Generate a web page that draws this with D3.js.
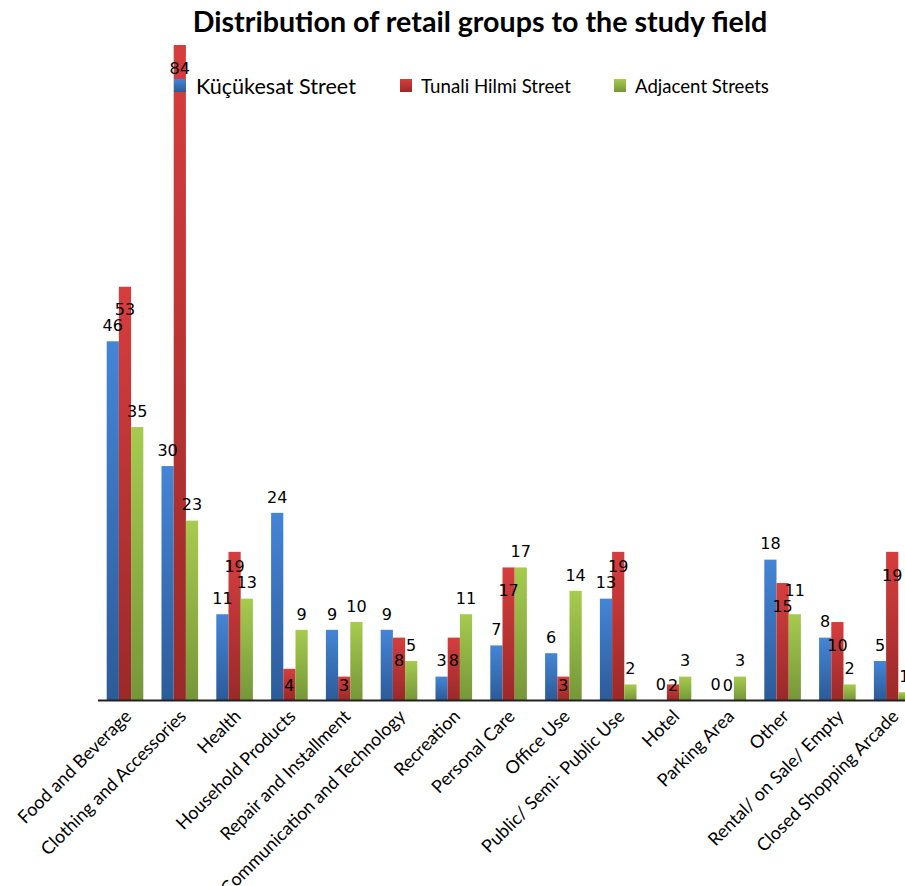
<!DOCTYPE html>
<html>
<head>
<meta charset="utf-8">
<script src="https://cdn.jsdelivr.net/npm/d3@7/dist/d3.min.js"></script>
<style>
  html, body { margin: 0; padding: 0; background: #fff; }
  svg { display: block; }
  .cat-label { font-family: Lato, "Open Sans", sans-serif; font-size: 18px; fill: #000; }
  .val-label { font-family: "DejaVu Sans", sans-serif; font-size: 16px; fill: #000; }
  .legend-text { font-family: Lato, "Open Sans", sans-serif; fill: #000; }
</style>
</head>
<body>
<div id="chart"></div>
<script>
// Retail groups per street
const categories = [
    'Food and Beverage', 'Clothing and Accessories', 'Health', 'Household Products',
    'Repair and Installment', 'Communication  and Technology', 'Recreation', 'Personal Care',
    'Office Use', 'Public/ Semi- Public Use', 'Hotel', 'Parking Area', 'Other',
    'Rental/ on Sale/ Empty', 'Closed Shopping Arcade'
];
const seriesNames = ['Küçükesat Street', 'Tunali Hilmi Street', 'Adjacent Streets'];
const kucukesat = [46, 30, 11, 24, 9, 9, 3, 7, 6, 13, 0, 0, 18, 8, 5];
const tunali = [53, 84, 19, 4, 3, 8, 8, 17, 3, 19, 2, 0, 15, 10, 19];
const adjacent = [35, 23, 13, 9, 10, 5, 11, 17, 14, 2, 3, 3, 11, 2, 1];
const yMax = 84;

const width = 905, height = 886;
const baseY = 700;

const colors = [
    { top: '#4585d6', bottom: '#2c5b99' },
    { top: '#d63e3e', bottom: '#9b2929' },
    { top: '#a6cb4e', bottom: '#769739' }
];

const svg = d3.select('#chart').append('svg')
    .attr('width', width)
    .attr('height', height);

const defs = svg.append('defs');
colors.forEach((c, i) => {
    const grad = defs.append('linearGradient')
        .attr('id', 'grad' + i)
        .attr('x1', 0).attr('y1', 0).attr('x2', 0).attr('y2', 1);
    grad.append('stop').attr('offset', '0%').attr('stop-color', c.top);
    grad.append('stop').attr('offset', '100%').attr('stop-color', c.bottom);
});

const x0 = d3.scaleBand()
    .domain(categories)
    .range([97.6, 919.6])
    .paddingInner(0.332)
    .paddingOuter(0.166);

const x1 = d3.scaleBand()
    .domain(d3.range(3))
    .range([0, x0.bandwidth()]);

const y = d3.scaleLinear()
    .domain([0, yMax])
    .range([baseY, 45]);

const rows = categories.map((cat, i) => ({
    cat,
    values: [kucukesat[i], tunali[i], adjacent[i]]
}));

// Bars
const groups = svg.append('g').attr('class', 'bars')
    .selectAll('g')
    .data(rows)
    .join('g')
    .attr('transform', d => `translate(${x0(d.cat)},0)`);

groups.selectAll('rect')
    .data(d => d.values.map((v, s) => ({ v, s })))
    .join('rect')
    .attr('x', d => x1(d.s))
    .attr('y', d => y(d.v))
    .attr('width', x1.bandwidth())
    .attr('height', d => baseY - y(d.v))
    .attr('fill', d => `url(#grad${d.s})`);

// Axis line
svg.append('line')
    .attr('x1', 98).attr('x2', width)
    .attr('y1', baseY + 0.5).attr('y2', baseY + 0.5)
    .attr('stroke', '#222')
    .attr('stroke-width', 1.8);

// Value labels: blue/green above the bar, red inside the top
const labelG = svg.append('g').attr('class', 'value-labels');
rows.forEach(row => {
    const gx = x0(row.cat);
    const items = row.values.map((v, s) => {
        const cx = gx + x1(s) + x1.bandwidth() / 2;
        let cy = s === 1 ? Math.min(y(v) + 23, baseY - 15) : y(v) - 16;
        const t = labelG.append('text')
            .attr('class', 'val-label')
            .attr('text-anchor', 'middle')
            .attr('dy', '0.36em')
            .text(v);
        return { t, cx, cy, w: t.node().getComputedTextLength() };
    });
    // nudge the upper of two clashing labels
    for (let a = 0; a < 3; a++) {
        for (let b = a + 1; b < 3; b++) {
            const p = items[a], q = items[b];
            const hOverlap = Math.abs(p.cx - q.cx) < (p.w + q.w) / 2 - 1;
            if (hOverlap && Math.abs(p.cy - q.cy) < 13) {
                if (p.cy < q.cy) p.cy = q.cy - 16; else q.cy = p.cy - 16;
            }
        }
    }
    items.forEach(it => it.t.attr('x', it.cx).attr('y', it.cy));
});

// Category labels
svg.append('g').attr('class', 'cat-labels')
    .selectAll('text')
    .data(categories)
    .join('text')
    .attr('class', 'cat-label')
    .attr('text-anchor', 'end')
    .attr('dy', '0.35em')
    .attr('transform', d => `translate(${x0(d) + x0.bandwidth() / 2 + 3},${baseY + 13}) rotate(-45)`)
    .text(d => d);

// Legend
const legend = [
    { x: 174, tx: 196, size: 19.5 },
    { x: 400, tx: 421, size: 16 },
    { x: 614, tx: 635, size: 16 }
];
const legendW = [160, 150, 134];
legend.forEach((l, i) => {
    svg.append('rect')
        .attr('x', l.x).attr('y', 79)
        .attr('width', 12).attr('height', 13)
        .attr('fill', `url(#grad${i})`);
    const t = svg.append('text')
        .attr('class', 'legend-text')
        .attr('x', l.tx).attr('y', 86)
        .attr('dy', '0.35em')
        .style('font-size', l.size + 'px')
        .text(seriesNames[i]);
    const w = t.node().getComputedTextLength();
    t.style('font-size', (l.size * legendW[i] / w) + 'px');
});

// Title
const title = svg.append('text')
    .attr('x', 480).attr('y', 22)
    .attr('text-anchor', 'middle')
    .attr('dy', '0.35em')
    .style('font-family', 'Lato, "Open Sans", sans-serif')
    .style('font-weight', 'bold')
    .style('font-size', '24px')
    .text('Distribution of retail groups to the study field');
const tw = title.node().getComputedTextLength();
title.style('font-size', (24 * 575 / tw) + 'px');
</script>
</body>
</html>
